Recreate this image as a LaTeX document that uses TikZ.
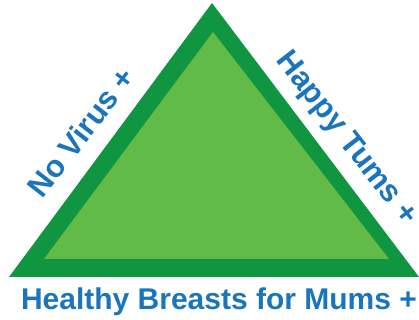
\documentclass[tikz,border=0pt]{standalone}
\usepackage{fontspec}
\setmainfont{Liberation Sans}
\usetikzlibrary{positioning}
\definecolor{darkgreen}{RGB}{16,150,65}
\definecolor{lightgreen}{RGB}{98,187,70}
\definecolor{textblue}{RGB}{27,117,188}
\tikzstyle{label}=[text=textblue,font=\fontsize{31}{31}\selectfont\bfseries,inner sep=0pt]
\tikzstyle{baselabel}=[label,font=\fontsize{30}{30}\selectfont\bfseries]
\begin{document}
\begin{tikzpicture}[x=1pt,y=1pt]
            \useasboundingbox (0,0) rectangle (419,320);
            \coordinate (top) at (212,317);
            \coordinate (left) at (9,43);
            \coordinate (right) at (419,43);
            \coordinate (itop) at (213,288);
            \coordinate (ileft) at (44,61);
            \coordinate (iright) at (389,61);
            \fill[darkgreen] (top) -- (right) -- (left) -- cycle;
            \fill[lightgreen] (itop) -- (iright) -- (ileft) -- cycle;
            \node[label, rotate=52] (virus) at (81,188) {No Virus +};
            \node[label, rotate=-52] (tums) at (346,181) {Happy Tums +};
            \node[baselabel, anchor=base] (mums) at (219,10) {Healthy Breasts for Mums +};
        \end{tikzpicture}
\end{document}
